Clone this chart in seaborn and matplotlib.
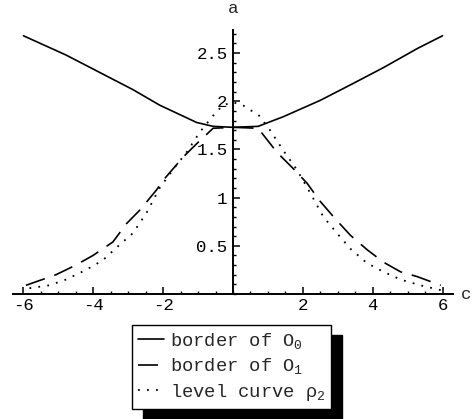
import numpy as np
import pandas as pd
import matplotlib
matplotlib.use("Agg")
import matplotlib.pyplot as plt
import seaborn as sns
from matplotlib.ticker import MultipleLocator, FixedLocator

# border of O_0 (solid)
c_o0 = [-6.0, -4.78, -3.82, -2.86, -2.10, -1.04, -0.57, 0.0, 0.72, 1.44, 2.5, 3.36, 4.31, 5.29, 6.0]
a_o0 = [2.68, 2.48, 2.30, 2.12, 1.96, 1.78, 1.74, 1.73, 1.74, 1.84, 2.01, 2.17, 2.35, 2.55, 2.68]

# border of O_1 (dashed)
c_o1 = [-5.93, -5.07, -4.5, -4.01, -3.44, -3.05, -2.67, -2.19, -2.0, -1.43, -1.04, -0.57,
        0.0, 0.72, 1.26, 1.73, 2.12, 2.5, 2.93, 3.36, 3.84, 4.31, 4.8, 5.28, 5.95]
a_o1 = [0.09, 0.20, 0.30, 0.40, 0.54, 0.73, 0.87, 1.08, 1.18, 1.42, 1.56, 1.72,
        1.73, 1.72, 1.47, 1.30, 1.15, 0.96, 0.78, 0.61, 0.46, 0.33, 0.23, 0.18, 0.09]

# level curve rho_2 (dotted)
c_rho = [-5.83, -5.26, -4.78, -4.21, -3.73, -3.25, -2.87, -2.48, -2.1, -1.72, -1.33, -0.95,
         -0.57, -0.29, 0.0, 0.28, 0.75, 1.06, 1.44, 1.83, 2.21, 2.59, 2.98, 3.36, 3.84,
         4.31, 4.8, 5.37, 5.95]
a_rho = [0.06, 0.09, 0.15, 0.25, 0.35, 0.51, 0.63, 0.84, 1.10, 1.29, 1.47, 1.68,
         1.85, 1.96, 1.99, 1.96, 1.85, 1.70, 1.49, 1.29, 1.05, 0.80, 0.63, 0.47, 0.32,
         0.23, 0.15, 0.09, 0.04]

labels = ["border of $\\mathrm{O_0}$", "border of $\\mathrm{O_1}$", "level curve ρ$_2$"]
x_major = [-6, -4, -2, 2, 4, 6]
y_major = [0.5, 1, 1.5, 2, 2.5]

sns.set_style("white")
plt.rcParams['font.family'] = ['Liberation Mono', 'DejaVu Sans Mono']
plt.rcParams['mathtext.fontset'] = 'custom'
plt.rcParams['mathtext.rm'] = 'Liberation Mono'
plt.rcParams['mathtext.it'] = 'Liberation Mono'

W, H = 473, 419
fig = plt.figure(figsize=(W / 100, H / 100), dpi=100)
ax = fig.add_axes([13 / W, 1 - 294 / H, 440 / W, 264 / H])

df0 = pd.DataFrame({"c": c_o0, "a": a_o0})
df1 = pd.DataFrame({"c": c_o1, "a": a_o1})
df2 = pd.DataFrame({"c": c_rho, "a": a_rho})

sns.lineplot(data=df0, x="c", y="a", ax=ax, color="black", lw=1.2, sort=False,
             estimator=None, linestyle="-", clip_on=False)
sns.lineplot(data=df1, x="c", y="a", ax=ax, color="black", lw=1.2, sort=False,
             estimator=None, linestyle=(0, (12, 6)), clip_on=False)
sns.lineplot(data=df2, x="c", y="a", ax=ax, color="black", lw=1.3, sort=False,
             estimator=None, linestyle=(0, (1, 4)), clip_on=False)

ax.set_xlim(-6.3, 6.3)
ax.set_ylim(0, 2.74)

for s in ["top", "right"]:
    ax.spines[s].set_visible(False)
for s in ["left", "bottom"]:
    ax.spines[s].set_position(("data", 0))
    ax.spines[s].set_linewidth(1.4)
    ax.spines[s].set_color("black")

ax.xaxis.set_major_locator(FixedLocator(x_major))
ax.xaxis.set_minor_locator(MultipleLocator(0.5))
ax.yaxis.set_major_locator(FixedLocator(y_major))
ax.yaxis.set_minor_locator(MultipleLocator(0.1))
ax.set_xticklabels(["-6", "-4", "-2", "2", "4", "6"])
ax.set_yticklabels(["0.5", "1", "1.5", "2", "2.5"])
ax.tick_params(axis="both", which="major", direction="in", length=5, width=1.1,
               labelsize=12.5, color="black", labelcolor="black")
ax.tick_params(axis="both", which="minor", direction="in", length=2.5, width=1.0,
               color="black")
ax.tick_params(axis="x", which="both", bottom=True, pad=3)
ax.tick_params(axis="y", which="both", left=True, pad=4)
ax.set_xlabel("")
ax.set_ylabel("")

ax.text(0, 2.96, "a", ha="center", va="center", fontsize=12.5)
ax.text(6.67, 0, "c", ha="center", va="center", fontsize=12.5)

handles = ax.get_lines()[:3]
leg = fig.legend(handles, labels, loc="upper left",
                 bbox_to_anchor=(132 / W, 1 - 325 / H), bbox_transform=fig.transFigure,
                 borderaxespad=0, borderpad=0.3, fancybox=False, framealpha=1,
                 edgecolor="black", fontsize=13.5, handlelength=1.4, handletextpad=0.3,
                 labelspacing=0.3,
                 shadow={"ox": 8, "oy": -7.5, "color": "black", "alpha": 1})
leg.get_frame().set_linewidth(1.0)

fig.savefig("out.png", dpi=100)
